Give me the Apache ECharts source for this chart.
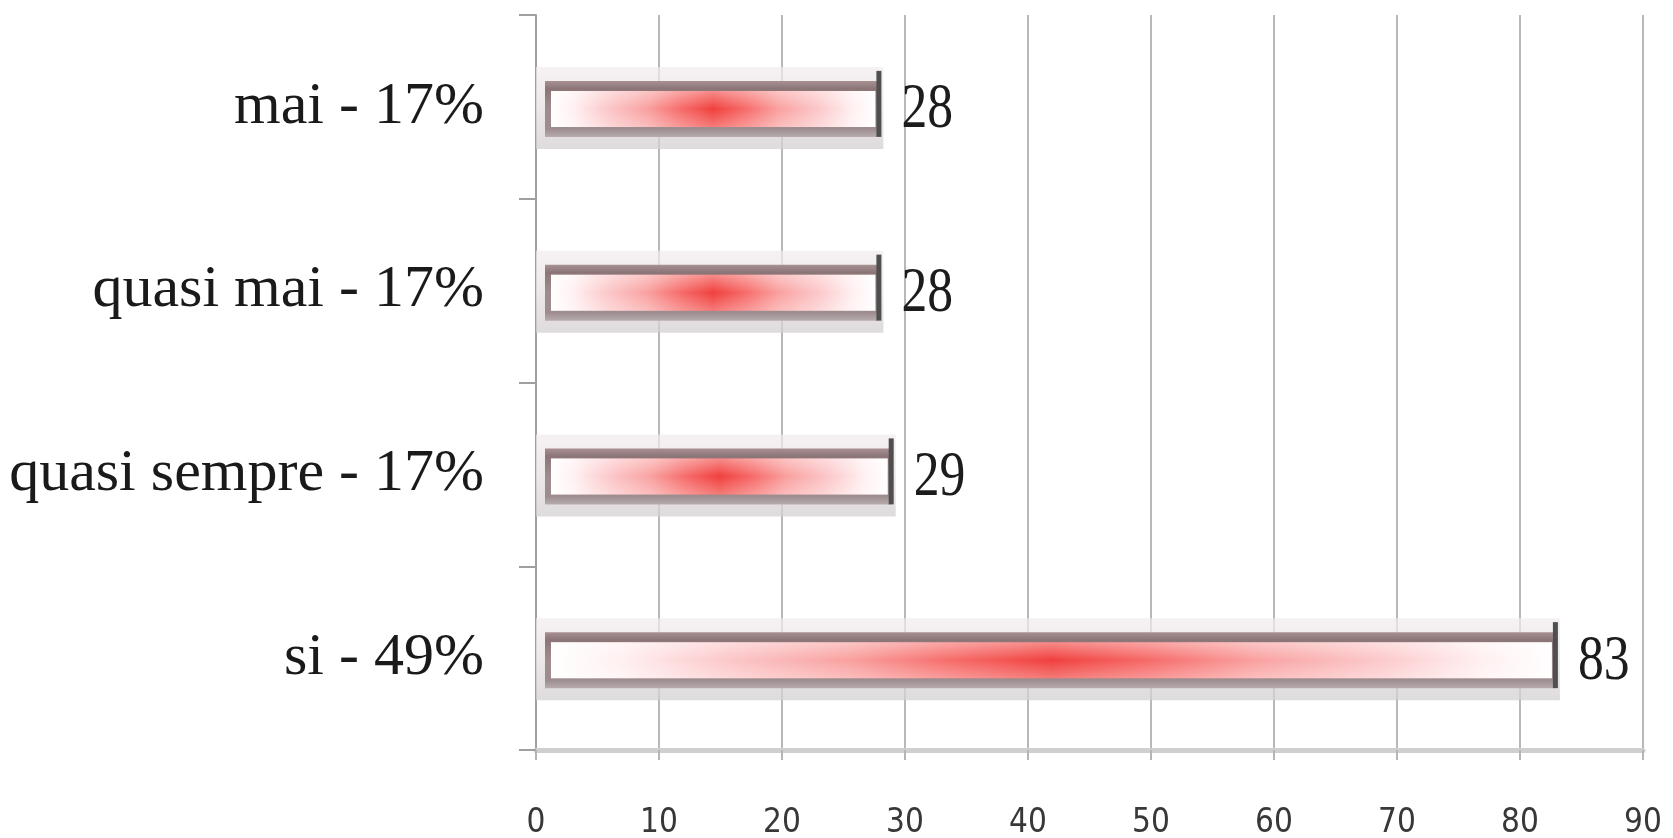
<!DOCTYPE html>
<html>
<head>
<meta charset="utf-8">
<script src="https://cdn.jsdelivr.net/npm/echarts@6/dist/echarts.min.js"></script>
<style>
  html, body { margin: 0; padding: 0; background: #ffffff; }
  #chart { width: 1673px; height: 838px; }
</style>
</head>
<body>
<div id="chart"></div>
<script>
// Answer categories (bottom to top) and their counts
const categories = ['si - 49%', 'quasi sempre - 17%', 'quasi mai - 17%', 'mai - 17%'];
const counts = [83, 29, 28, 28];
const xTicks = [0, 10, 20, 30, 40, 50, 60, 70, 80, 90];

const SERIF = "'Liberation Serif', 'DejaVu Serif', serif";
const NARROW = "'DejaVu Sans Condensed', 'Liberation Sans', sans-serif";

// Glossy framed bar: grey frame, red glow in the middle, dark end cap and value text
function renderBar(params, api) {
  const cat = api.value(1);
  const val = api.value(0);
  const start = api.coord([0, cat]);
  const end = api.coord([val, cat]);
  const x0 = start[0];
  const x1 = end[0];
  const cy = start[1] + 2;
  const w = x1 - x0;

  const children = [];
  // soft outer halo
  children.push({
    type: 'rect',
    shape: { x: x0, y: cy - 42, width: w + 3, height: 82 },
    style: {
      fill: new echarts.graphic.LinearGradient(0, 0, 0, 1, [
        { offset: 0, color: 'rgba(242,236,238,0.7)' },
        { offset: 0.5, color: 'rgba(232,226,228,0.8)' },
        { offset: 1, color: 'rgba(212,208,210,0.75)' }
      ])
    }
  });
  // frame
  children.push({
    type: 'rect',
    shape: { x: x0 + 9, y: cy - 28, width: w - 11, height: 56 },
    style: {
      fill: new echarts.graphic.LinearGradient(0, 0, 0, 1, [
        { offset: 0, color: '#a99193' },
        { offset: 0.14, color: '#8c7577' },
        { offset: 0.5, color: '#a08c8e' },
        { offset: 0.86, color: '#9d8d8f' },
        { offset: 1, color: '#b8acae' }
      ])
    }
  });
  // inner glowing fill
  children.push({
    type: 'rect',
    shape: { x: x0 + 15, y: cy - 18, width: w - 20, height: 36 },
    style: {
      fill: new echarts.graphic.LinearGradient(0, 0, 1, 0, [
        { offset: 0, color: '#ffffff' },
        { offset: 0.07, color: '#fff0f1' },
        { offset: 0.18, color: '#fcc6c8' },
        { offset: 0.3, color: '#f9a09f' },
        { offset: 0.4, color: '#f66c6a' },
        { offset: 0.5, color: '#f0403d' },
        { offset: 0.6, color: '#f66c6a' },
        { offset: 0.7, color: '#f9a09f' },
        { offset: 0.82, color: '#fcc6c8' },
        { offset: 0.93, color: '#fff0f1' },
        { offset: 1, color: '#ffffff' }
      ])
    }
  });
  // vertical sheen over the fill
  children.push({
    type: 'rect',
    shape: { x: x0 + 15, y: cy - 18, width: w - 20, height: 36 },
    style: {
      fill: new echarts.graphic.LinearGradient(0, 0, 0, 1, [
        { offset: 0, color: 'rgba(255,255,255,0.4)' },
        { offset: 0.5, color: 'rgba(255,255,255,0)' },
        { offset: 1, color: 'rgba(255,255,255,0.3)' }
      ])
    }
  });
  // dark end cap
  children.push({
    type: 'rect',
    shape: { x: x1 - 4, y: cy - 38, width: 5, height: 66 },
    style: { fill: '#4f4f4f' }
  });
  // value text, slightly condensed
  children.push({
    type: 'text',
    x: x1 + 21,
    y: cy + 2,
    scaleX: 0.82,
    style: {
      text: String(val),
      x: 0,
      y: 0,
      fill: '#1c1c1c',
      font: '63px ' + SERIF,
      verticalAlign: 'middle',
      align: 'left'
    }
  });
  return { type: 'group', children: children };
}

const chart = echarts.init(document.getElementById('chart'), null, { renderer: 'canvas' });
chart.setOption({
  animation: false,
  backgroundColor: '#ffffff',
  grid: { left: 536, right: 30, top: 15, bottom: 88, outerBoundsMode: 'none' },
  xAxis: {
    type: 'value',
    min: xTicks[0],
    max: xTicks[xTicks.length - 1],
    interval: 10,
    axisLine: { show: true, lineStyle: { color: '#cfcfcf', width: 5 } },
    axisTick: { show: true, length: 10, lineStyle: { color: '#b5b5b5', width: 2 } },
    splitLine: { show: true, lineStyle: { color: '#b8b8b8', width: 2 } },
    axisLabel: {
      margin: 57,
      fontSize: 33,
      fontFamily: NARROW,
      color: '#383838'
    }
  },
  yAxis: {
    type: 'category',
    data: categories,
    axisLine: { show: true, lineStyle: { color: '#a0a0a0', width: 2 } },
    axisTick: { show: true, length: 17, lineStyle: { color: '#a0a0a0', width: 2 } },
    splitLine: { show: false },
    axisLabel: {
      margin: 52,
      fontSize: 60,
      fontFamily: SERIF,
      color: '#1a1a1a'
    }
  },
  series: [{
    type: 'custom',
    renderItem: renderBar,
    encode: { x: 0, y: 1 },
    data: counts.map(function (v, i) { return [v, i]; }),
    z: 5
  }]
});
</script>
</body>
</html>
